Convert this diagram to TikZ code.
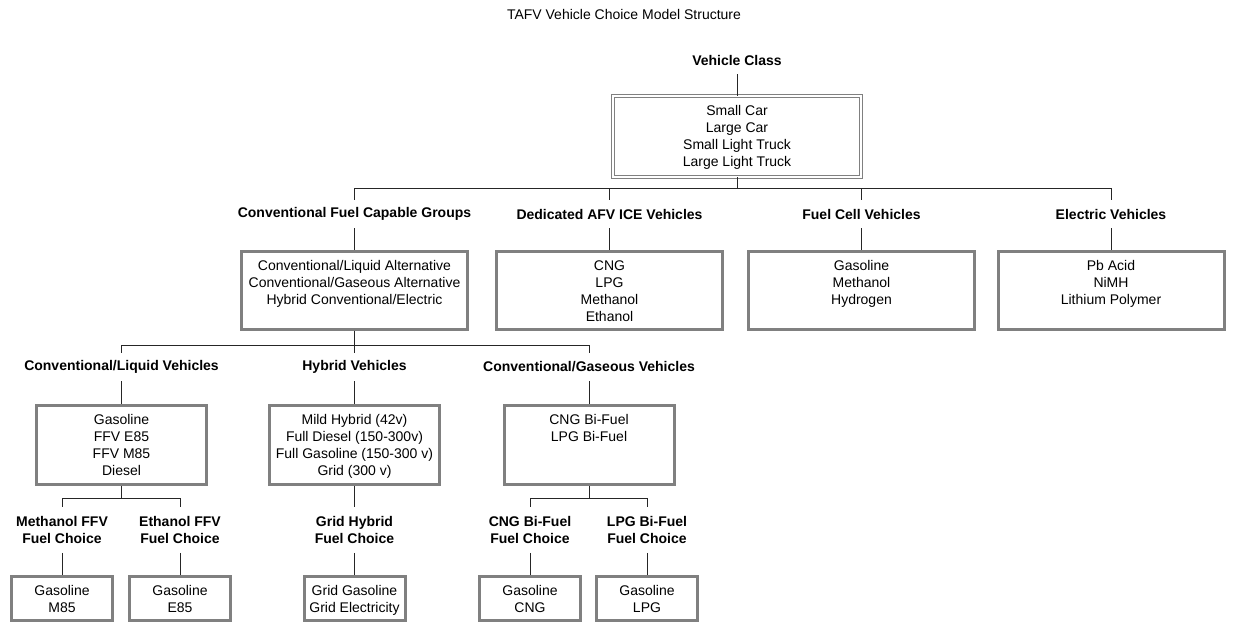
\documentclass[tikz,border=0pt]{standalone}
\usepackage{fontspec}
\setmainfont{Liberation Sans}
\definecolor{boxgray}{RGB}{128,128,128}
\begin{document}
\begin{tikzpicture}[x=0.75pt,y=-0.75pt,
	every node/.style={font=\fontsize{10.5pt}{12.75pt}\selectfont},
	grouplbl/.style={font=\fontsize{10.5pt}{12.75pt}\selectfont\bfseries,inner sep=0pt,minimum height=21pt,align=center},
	choicelbl/.style={grouplbl,minimum height=33.75pt},
	framed/.style 2 args={draw=boxgray,line width=2.25pt,inner sep=0pt,
		execute at begin node={\begin{minipage}[c][#2][t]{#1}\centering\vspace*{6.8pt}},
		execute at end node={\end{minipage}}},
	classbox/.style={framed={186pt}{60.75pt},line width=0.7pt,double=white,double distance=1.6pt},
	bigbox/.style={framed={169.5pt}{58.5pt}},
	midbox/.style={framed={127.5pt}{59.25pt}},
	smallbox/.style={framed={75.75pt}{33pt}},
	conn/.style={draw=black!85,line width=0.75pt}]
	\useasboundingbox (0,0) rectangle (1233,624);
	\node (title) at (624,14) {TAFV Vehicle Choice Model Structure};
	\node[grouplbl] (vclass) at (737,60) {Vehicle Class};
	\node[classbox] (classes) at (737,136.5) {Small Car\\Large Car\\Small Light Truck\\Large Light Truck};
	\node[grouplbl] (convgrp) at (354.5,214) {Conventional Fuel Capable Groups};
	\node[grouplbl] (afvgrp) at (609.5,214) {Dedicated AFV ICE Vehicles};
	\node[grouplbl] (fcgrp) at (861.5,214) {Fuel Cell Vehicles};
	\node[grouplbl] (evgrp) at (1111,214) {Electric Vehicles};
	\node[bigbox] (convbox) at (354.5,290.5) {Conventional/Liquid Alternative\\Conventional/Gaseous Alternative\\Hybrid Conventional/Electric};
	\node[bigbox] (afvbox) at (609.5,290.5) {CNG\\LPG\\Methanol\\Ethanol};
	\node[bigbox] (fcbox) at (861.5,290.5) {Gasoline\\Methanol\\Hydrogen};
	\node[bigbox] (evbox) at (1111,290.5) {Pb Acid\\NiMH\\Lithium Polymer};
	\node[grouplbl] (liqgrp) at (121.5,367) {Conventional/Liquid Vehicles};
	\node[grouplbl] (hybgrp) at (354.5,367) {Hybrid Vehicles};
	\node[grouplbl] (gasgrp) at (589,367) {Conventional/Gaseous Vehicles};
	\node[midbox] (liqbox) at (121.5,445) {Gasoline\\FFV E85\\FFV M85\\Diesel};
	\node[midbox] (hybbox) at (354.5,445) {Mild Hybrid (42v)\\Full Diesel (150-300v)\\Full Gasoline (150-300 v)\\Grid (300 v)};
	\node[midbox] (gasbox) at (589,445) {CNG Bi-Fuel\\LPG Bi-Fuel};
	\node[choicelbl] (methgrp) at (62,530) {Methanol FFV\\Fuel Choice};
	\node[choicelbl] (ethgrp) at (180,530) {Ethanol FFV\\Fuel Choice};
	\node[choicelbl] (gridgrp) at (354.5,530) {Grid Hybrid\\Fuel Choice};
	\node[choicelbl] (cnggrp) at (530,530) {CNG Bi-Fuel\\Fuel Choice};
	\node[choicelbl] (lpggrp) at (647,530) {LPG Bi-Fuel\\Fuel Choice};
	\node[smallbox] (methbox) at (62,598.5) {Gasoline\\M85};
	\node[smallbox] (ethbox) at (180,598.5) {Gasoline\\E85};
	\node[smallbox] (gridbox) at (354.5,598.5) {Grid Gasoline\\Grid Electricity};
	\node[smallbox] (cngbox) at (530,598.5) {Gasoline\\CNG};
	\node[smallbox] (lpgbox) at (647,598.5) {Gasoline\\LPG};
	\draw[conn] (vclass.south) -- (classes.north);
	\foreach \g in {convgrp,afvgrp,fcgrp,evgrp}
		\draw[conn] (classes.south) -- ++(0,11.5) -| (\g.north);
	\foreach \g in {liqgrp,hybgrp,gasgrp}
		\draw[conn] (convbox.south) -- ++(0,14.5) -| (\g.north);
	\foreach \g in {methgrp,ethgrp}
		\draw[conn] (liqbox.south) -- ++(0,12.5) -| (\g.north);
	\foreach \g in {cnggrp,lpggrp}
		\draw[conn] (gasbox.south) -- ++(0,12.5) -| (\g.north);
	\draw[conn] (hybbox.south) -- (gridgrp.north);
	\foreach \g/\b in {convgrp/convbox,afvgrp/afvbox,fcgrp/fcbox,evgrp/evbox,liqgrp/liqbox,hybgrp/hybbox,gasgrp/gasbox,methgrp/methbox,ethgrp/ethbox,gridgrp/gridbox,cnggrp/cngbox,lpggrp/lpgbox}
		\draw[conn] (\g.south) -- (\b.north);
\end{tikzpicture}
\end{document}
